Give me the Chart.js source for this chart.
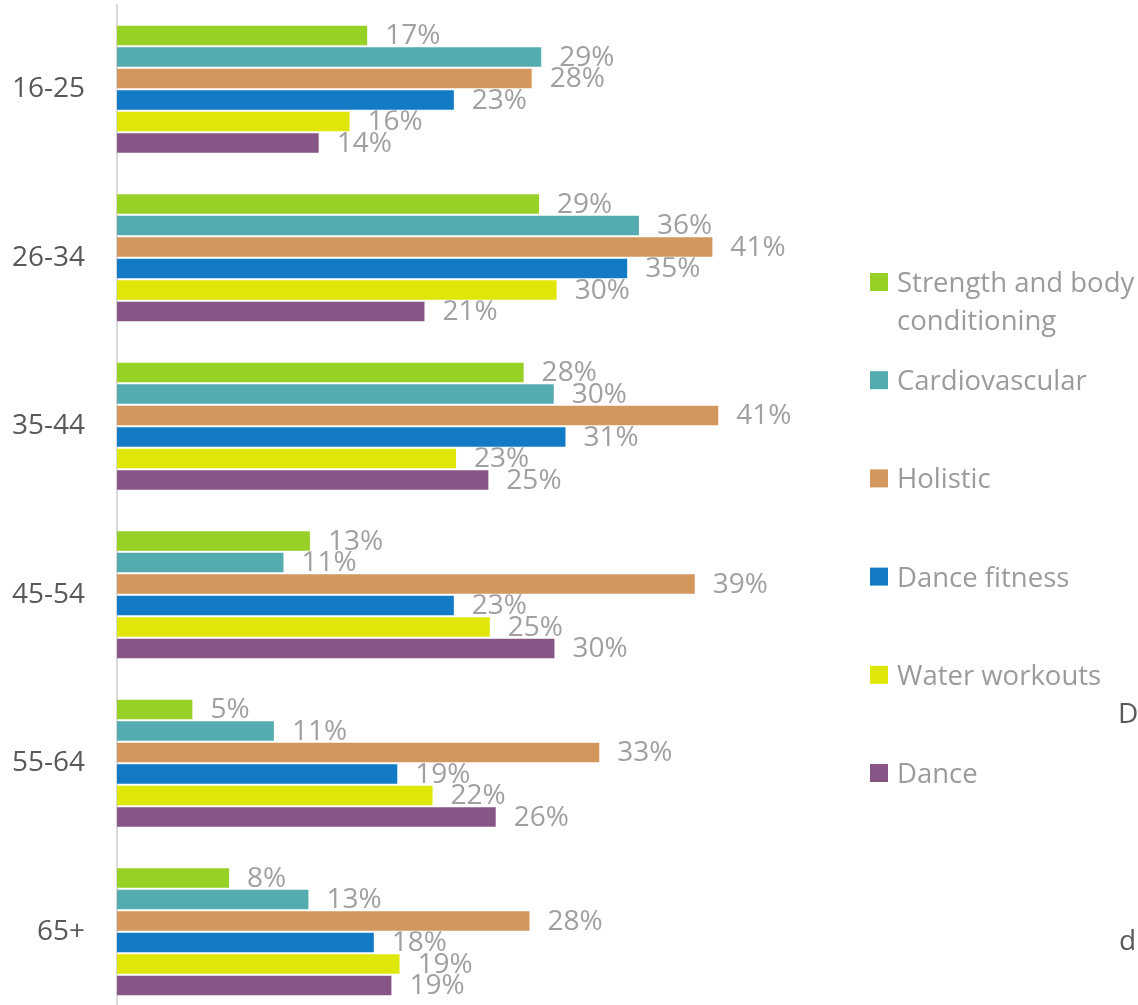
<!DOCTYPE html>
<html>
<head>
<meta charset="utf-8">
<title>Class preference by age group</title>
<script src="https://cdn.jsdelivr.net/npm/chart.js@4.4.1/dist/chart.umd.min.js"></script>
<style>
  html, body { margin: 0; padding: 0; background: #fff; overflow: hidden; }
  #wrap { width: 1138px; height: 1017px; }
</style>
</head>
<body>
<div id="wrap"><canvas id="ageChart" width="1138" height="1017"></canvas></div>
<script>
// age bands down the left axis
var ageGroups = ['16-25', '26-34', '35-44', '45-54', '55-64', '65+'];

var seriesNames = ['Strength and body conditioning', 'Cardiovascular', 'Holistic',
                   'Dance fitness', 'Water workouts', 'Dance'];
var seriesColors = ['#97d125', '#54acb1', '#d3965c', '#137bc6', '#dfe708', '#885587'];

// share of each age band (%)
var strength     = [17.1, 28.8, 27.75, 13.2, 5.2, 7.7];
var cardio       = [28.95, 35.6, 29.8, 11.4, 10.75, 13.1];
var holistic     = [28.3, 40.6, 41.0, 39.4, 32.9, 28.15];
var danceFitness = [23.0, 34.8, 30.6, 23.0, 19.15, 17.55];
var water        = [15.9, 30.0, 23.15, 25.45, 21.55, 19.3];
var dance        = [13.8, 21.0, 25.35, 29.85, 25.85, 18.75];

var seriesValues = [strength, cardio, holistic, danceFitness, water, dance];

// letters left over at the right edge
var edgeLetters = ['D', 'd'];

var FONT = '"Open Sans", "Noto Sans", sans-serif';

// split a legend label into lines that fit maxW
function wrapWords(ctx, text, maxW) {
    var words = text.split(' ');
    var lines = [];
    var cur = '';
    words.forEach(function(w) {
        var test = cur ? cur + ' ' + w : w;
        if (cur && ctx.measureText(test).width > maxW) {
            lines.push(cur);
            cur = w;
        } else {
            cur = test;
        }
    });
    if (cur) lines.push(cur);
    return lines;
}

// percent labels sit behind the bars, so the next bar down hides their lower edge
var valueLabels = {
    id: 'valueLabels',
    beforeDatasetsDraw: function(chart) {
        var ctx = chart.ctx;
        ctx.save();
        ctx.font = '28px ' + FONT;
        ctx.fillStyle = '#a0a0a0';
        ctx.textAlign = 'left';
        ctx.textBaseline = 'middle';
        chart.data.datasets.forEach(function(ds, i) {
            chart.getDatasetMeta(i).data.forEach(function(bar, j) {
                ctx.fillText(Math.round(ds.data[j]) + '%', bar.x + 17, bar.y + 1);
            });
        });
        ctx.restore();
    }
};

var sideLegend = {
    id: 'sideLegend',
    afterDraw: function(chart) {
        var ctx = chart.ctx;
        ctx.save();
        ctx.font = '27.5px ' + FONT;
        ctx.textAlign = 'left';
        ctx.textBaseline = 'alphabetic';
        chart.data.datasets.forEach(function(ds, i) {
            var base = 292 + i * 98.2;
            ctx.fillStyle = ds.backgroundColor;
            ctx.fillRect(870, base - 19, 18, 18);
            ctx.fillStyle = '#9b9b9b';
            wrapWords(ctx, ds.label, 250).forEach(function(line, k) {
                ctx.fillText(line, 897, base + k * 38);
            });
        });

        ctx.font = '28px ' + FONT;
        ctx.fillStyle = '#595959';
        ctx.fillText(edgeLetters[0], 1118, 723);
        ctx.fillText(edgeLetters[1], 1119, 950);
        ctx.restore();
    }
};

var datasets = seriesNames.map(function(name, i) {
    return {
        label: name,
        data: seriesValues[i],
        backgroundColor: seriesColors[i],
        borderColor: 'rgba(255,255,255,0.45)',
        borderWidth: 1,
        borderSkipped: 'start',
        barPercentage: 1.0,
        categoryPercentage: 0.766
    };
});

new Chart(document.getElementById('ageChart'), {
    type: 'bar',
    data: {
        labels: ageGroups,
        datasets: datasets
    },
    options: {
        indexAxis: 'y',
        responsive: false,
        animation: false,
        devicePixelRatio: 1,
        layout: {
            padding: { top: 5, bottom: 1, left: 0, right: 360 }
        },
        plugins: {
            legend: { display: false },
            tooltip: { enabled: false }
        },
        scales: {
            x: {
                display: false,
                min: 0,
                max: 45
            },
            y: {
                grid: { display: false, drawTicks: false },
                border: { display: true, color: '#d9d9d9', width: 2 },
                ticks: {
                    color: '#595959',
                    padding: 32,
                    font: { family: FONT, size: 28 }
                },
                afterFit: function(scale) {
                    // fixed gutter; the tick padding should not push the plot in from top/bottom
                    scale.width = 117;
                    scale.paddingTop = 0;
                    scale.paddingBottom = 0;
                }
            }
        }
    },
    plugins: [valueLabels, sideLegend]
});
</script>
</body>
</html>
